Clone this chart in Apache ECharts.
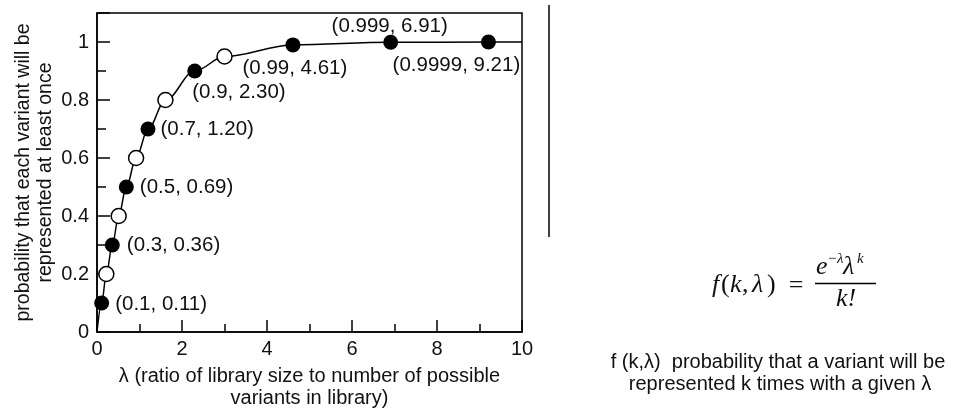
<!DOCTYPE html>
<html>
<head>
<meta charset="utf-8">
<script src="https://cdn.jsdelivr.net/npm/echarts@6/dist/echarts.min.js"></script>
<style>
html,body{margin:0;padding:0;background:#fff;}
#c{width:956px;height:414px;}
</style>
</head>
<body>
<div id="c"></div>
<script>
// ---- data ----
const filledProb   = [0.1, 0.3, 0.5, 0.7, 0.9, 0.99, 0.999, 0.9999];
const filledLambda = [0.11, 0.36, 0.69, 1.20, 2.30, 4.61, 6.91, 9.21];
const openProb     = [0.2, 0.4, 0.6, 0.8, 0.95];
const openLambda   = [0.22, 0.51, 0.92, 1.61, 3.00];
const curveLambda  = [0, 0.11, 0.22, 0.36, 0.51, 0.69, 0.92, 1.20, 1.61, 2.30, 3.00, 4.61, 6.91, 9.21, 10];
const curveProb    = [0, 0.1, 0.2, 0.3, 0.4, 0.5, 0.6, 0.7, 0.8, 0.9, 0.95, 0.99, 0.999, 0.9999, 1.0];
const pointLabels  = ['(0.1, 0.11)', '(0.3, 0.36)', '(0.5, 0.69)', '(0.7, 1.20)', '(0.9, 2.30)', '(0.99, 4.61)', '(0.999, 6.91)', '(0.9999, 9.21)'];
const xTicks = [0, 2, 4, 6, 8, 10];
const yTicks = [0, 0.2, 0.4, 0.6, 0.8, 1];
const yAxisTitle = 'probability that each variant will be\nrepresented at least once';
const xAxisTitle = 'λ (ratio of library size to number of possible\nvariants in library)';
const captionLines = ['f (k,λ)  probability that a variant will be', 'represented k times with a given λ'];

// ---- label placement (style, not data) ----
const labelPlacement = [
  {position: 'right', distance: 6, offset: [0, 1]},
  {position: 'right', distance: 7, offset: [0, 0]},
  {position: 'right', distance: 6, offset: [0, 0]},
  {position: 'right', distance: 5, offset: [0, 0]},
  {position: 'right', distance: 5, offset: [-15, 21]},
  {position: 'bottom', distance: 5, offset: [2, 0]},
  {position: 'top', distance: 0, offset: [-1, 2]},
  {position: 'bottom', distance: 5, offset: [-32, 0]}
];

const FONT = '"Liberation Sans", Arial, sans-serif';
const TXT = '#111';
const SERIF = '"Liberation Serif", "DejaVu Serif", serif';

const chart = echarts.init(document.getElementById('c'), null, {renderer: 'canvas'});

const filledData = filledLambda.map((x, i) => ({
  value: [x, filledProb[i]],
  label: Object.assign({show: true, formatter: pointLabels[i]}, labelPlacement[i])
}));
const openData = openLambda.map((x, i) => [x, openProb[i]]);
const curveData = curveLambda.map((x, i) => [x, curveProb[i]]);

const yLabelSet = yTicks.map(v => v.toFixed(1));
const xLabelSet = xTicks.map(String);

function txt(text, x, y, font, align) {
  return {type: 'text', x: x, y: y, silent: true,
    style: {text: text, font: font, fill: TXT, align: align || 'left', verticalAlign: 'middle'}};
}
const MI = 'italic 26px ' + SERIF;
const MR = '26px ' + SERIF;
const MS = 'italic 15px ' + SERIF;

chart.setOption({
  backgroundColor: '#fff',
  animation: false,
  grid: {left: 97, right: 434, top: 13, bottom: 76, show: true, borderColor: '#000', borderWidth: 1.5, backgroundColor: 'transparent'},
  xAxis: [{
    type: 'value', min: 0, max: 10, interval: 2,
    axisLine: {show: true, lineStyle: {color: '#000', width: 1.5}},
    axisTick: {show: true, inside: true, length: 12, lineStyle: {color: '#000', width: 1.5}},
    splitLine: {show: false},
    axisLabel: {color: TXT, fontFamily: FONT, fontSize: 20, margin: 7,
      formatter: v => xLabelSet.indexOf(String(v)) >= 0 ? String(v) : ''},
    name: xAxisTitle, nameLocation: 'middle', nameGap: 33,
    nameTextStyle: {color: TXT, fontFamily: FONT, fontSize: 20, lineHeight: 22, verticalAlign: 'top'}
  }, {
    type: 'value', min: 0, max: 10, interval: 1, position: 'bottom',
    axisLine: {show: false},
    axisTick: {show: true, inside: true, length: 8, lineStyle: {color: '#000', width: 1.5}},
    splitLine: {show: false}, axisLabel: {show: false}
  }],
  yAxis: [{
    type: 'value', min: 0, max: 1.1, interval: 0.2,
    axisLine: {show: true, lineStyle: {color: '#000', width: 1.5}},
    axisTick: {show: true, inside: true, length: 13, lineStyle: {color: '#000', width: 1.5}},
    splitLine: {show: false},
    axisLabel: {color: TXT, fontFamily: FONT, fontSize: 20, margin: 8,
      formatter: v => {
        const s = (+v).toFixed(1);
        if (yLabelSet.indexOf(s) < 0) return '';
        return String(+s);
      }},
    name: yAxisTitle, nameLocation: 'middle', nameGap: 40, nameRotate: 90,
    nameTextStyle: {color: TXT, fontFamily: FONT, fontSize: 19.5, lineHeight: 22}
  }, {
    type: 'value', min: 0, max: 1.1, interval: 0.1, position: 'left',
    axisLine: {show: false},
    axisTick: {show: true, inside: true, length: 9, lineStyle: {color: '#000', width: 1.5}},
    splitLine: {show: false}, axisLabel: {show: false}
  }],
  series: [{
    type: 'line', data: curveData, xAxisIndex: 0, yAxisIndex: 0,
    smooth: 0.35, smoothMonotone: 'x', showSymbol: false, symbol: 'none',
    lineStyle: {color: '#000', width: 1.5}, z: 2
  }, {
    type: 'scatter', data: openData, symbol: 'circle', symbolSize: 15,
    itemStyle: {color: '#fff', borderColor: '#000', borderWidth: 1.5, opacity: 1}, z: 3
  }, {
    type: 'scatter', data: filledData, symbol: 'circle', symbolSize: 15,
    itemStyle: {color: '#000', opacity: 1},
    label: {color: TXT, fontFamily: FONT, fontSize: 20.5},
    z: 4
  }],
  graphic: [
    {type: 'line', shape: {x1: 549, y1: 5, x2: 549, y2: 237}, style: {stroke: '#000', lineWidth: 1.5}},
    // f(k, λ) =
    txt('f', 712, 285, MI),
    txt('(', 721, 285, MR),
    txt('k', 730, 285, MI),
    txt(',', 742, 285, MR),
    txt('λ', 752, 285, MI),
    txt(')', 767, 285, MR),
    txt('=', 796, 286, MR, 'center'),
    // numerator e^{-λ} λ^k
    txt('e', 816, 267, MI),
    txt('−λ', 827, 259, MS),
    txt('λ', 843, 267, MI),
    txt('k', 857, 259, MS),
    {type: 'line', shape: {x1: 815, y1: 283.5, x2: 876, y2: 283.5}, style: {stroke: '#000', lineWidth: 1.3}},
    // denominator k!
    txt('k!', 846, 299, MI, 'center'),
    {type: 'text', x: 778, y: 362, style: {text: captionLines[0], font: '20px ' + FONT, fill: TXT, align: 'center', verticalAlign: 'middle'}},
    {type: 'text', x: 780, y: 384, style: {text: captionLines[1], font: '20px ' + FONT, fill: TXT, align: 'center', verticalAlign: 'middle'}}
  ]
});
</script>
</body>
</html>
